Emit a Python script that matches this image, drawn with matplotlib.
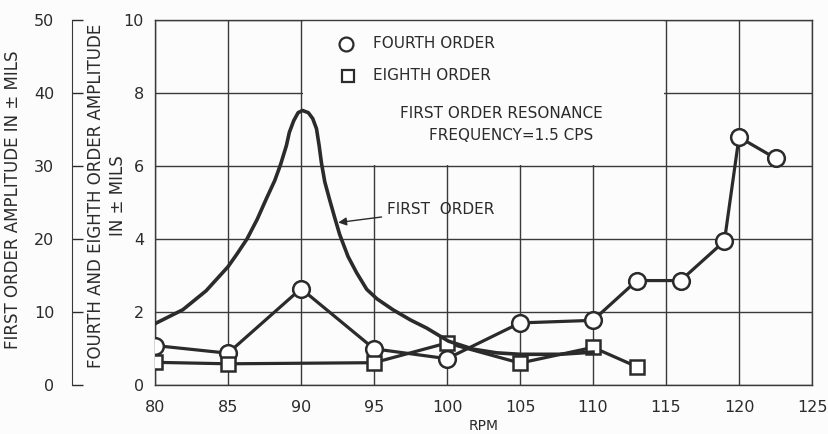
import matplotlib.pyplot as plt
from matplotlib.patches import Rectangle

# fourth order (circles), +/- mils on the 0-10 scale
fourth_rpm = [80, 85, 90, 95, 100, 105, 110, 113, 116, 119, 120, 122.5]
fourth_amp = [1.08, 0.87, 2.64, 0.99, 0.72, 1.70, 1.77, 2.86, 2.86, 3.94, 6.79, 6.21]

# eighth order (squares)
eighth_rpm = [80, 85, 95, 100, 105, 110, 113]
eighth_amp = [0.62, 0.58, 0.61, 1.15, 0.60, 1.03, 0.50]

# first order curve, +/- mils on the 0-50 scale
first_rpm = [80, 81.9, 83.5, 85, 85.6, 86.3, 87.0, 87.6, 88.2, 88.6, 89.0,
             89.2, 89.5, 89.8, 90.1, 90.5, 90.8, 91.06, 91.24, 91.4, 91.63,
             91.97, 92.31, 92.65, 93.22, 93.8, 94.5, 95.2, 96.3, 97.5, 98.6,
             100.1, 101.8, 103.4, 105, 107.7, 110]
first_amp = [8.4, 10.3, 12.9, 16.2, 17.9, 20.0, 22.7, 25.4, 28.0, 30.2, 32.8,
             34.6, 36.2, 37.3, 37.6, 37.3, 36.5, 35.1, 32.8, 30.4, 27.8,
             25.3, 22.9, 20.6, 17.6, 15.4, 13.1, 11.8, 10.3, 8.9, 7.8,
             6.0, 4.9, 4.4, 4.2, 4.2, 4.5]

x_ticks = [80, 85, 90, 95, 100, 105, 110, 115, 120, 125]
inner_ticks = [0, 2, 4, 6, 8, 10]
outer_ticks = [0, 10, 20, 30, 40, 50]

ink = '#2b2b2b'
bg = '#fcfcfc'


def main():
    plt.rcParams['font.family'] = 'DejaVu Sans'
    fig = plt.figure(figsize=(8.29, 4.34), dpi=100, facecolor=bg)
    ax = fig.add_axes([0.187, 0.113, 0.7925, 0.841])
    ax.set_facecolor(bg)

    ax.set_xlim(80, 125)
    ax.set_ylim(0, 10)
    ax.set_xticks(x_ticks)
    ax.set_yticks(inner_ticks)
    ax.set_axisbelow(True)
    ax.grid(True, color='#3a3a3a', linewidth=1.0)
    ax.tick_params(length=0, labelsize=11.5, colors=ink)
    ax.tick_params(axis='x', pad=11)
    ax.tick_params(axis='y', pad=8)
    for s in ax.spines.values():
        s.set_color('#3a3a3a')
        s.set_linewidth(1.0)

    # blank area behind the notes
    ax.add_patch(Rectangle((90.12, 6.04), 24.76, 3.96, facecolor=bg,
                           edgecolor='none', zorder=1))

    ax.plot(fourth_rpm, fourth_amp, color=ink, linewidth=2.3, marker='o',
            markersize=12, markerfacecolor='white', markeredgecolor=ink,
            markeredgewidth=1.8, zorder=4)
    ax.plot(eighth_rpm, eighth_amp, color=ink, linewidth=2.3, marker='s',
            markersize=10.5, markerfacecolor='white', markeredgecolor=ink,
            markeredgewidth=1.8, zorder=4)

    # outer scale for the first order curve
    ax2 = ax.twinx()
    ax2.set_ylim(0, 50)
    ax2.set_yticks(outer_ticks)
    ax2.yaxis.tick_left()
    ax2.spines['left'].set_position(('axes', -0.126))
    ax2.spines['left'].set_visible(True)
    ax2.spines['left'].set_color('#3a3a3a')
    for k in ['right', 'top', 'bottom']:
        ax2.spines[k].set_visible(False)
    ax2.tick_params(axis='y', direction='in', length=8, width=1.0,
                    labelsize=11.5, colors=ink, pad=13)
    ax2.plot(first_rpm, first_amp, color=ink, linewidth=2.6, zorder=3,
             solid_joinstyle='round')

    # legend and notes
    ax.plot([93.1], [9.35], marker='o', markersize=10, markerfacecolor='white',
            markeredgecolor=ink, markeredgewidth=1.6, linestyle='none')
    ax.plot([93.2], [8.47], marker='s', markersize=9, markerfacecolor='white',
            markeredgecolor=ink, markeredgewidth=1.6, linestyle='none')
    ax.text(94.9, 9.35, 'FOURTH ORDER', fontsize=11, color=ink, va='center')
    ax.text(94.9, 8.47, 'EIGHTH ORDER', fontsize=11, color=ink, va='center')
    ax.text(103.7, 7.43, 'FIRST ORDER RESONANCE', fontsize=11, color=ink,
            ha='center', va='center')
    ax.text(104.4, 6.83, 'FREQUENCY=1.5 CPS', fontsize=11, color=ink,
            ha='center', va='center')
    ax.annotate('FIRST  ORDER', xy=(92.55, 4.45), xytext=(95.9, 4.81),
                fontsize=11, color=ink, va='center',
                arrowprops=dict(arrowstyle='-|>', color=ink, lw=1.0,
                                shrinkA=2, shrinkB=0, mutation_scale=12))

    ax.set_xlabel('RPM', fontsize=10, color=ink, labelpad=3)

    fig.text(0.016, 0.54, 'FIRST ORDER AMPLITUDE IN ± MILS', rotation=90,
             fontsize=12, color=ink, ha='center', va='center')
    fig.text(0.116, 0.548, 'FOURTH AND EIGHTH ORDER AMPLITUDE', rotation=90,
             fontsize=12, color=ink, ha='center', va='center')
    fig.text(0.142, 0.55, 'IN ± MILS', rotation=90,
             fontsize=12, color=ink, ha='center', va='center')

    fig.savefig('out.png', dpi=100, facecolor=bg)


if __name__ == '__main__':
    main()
